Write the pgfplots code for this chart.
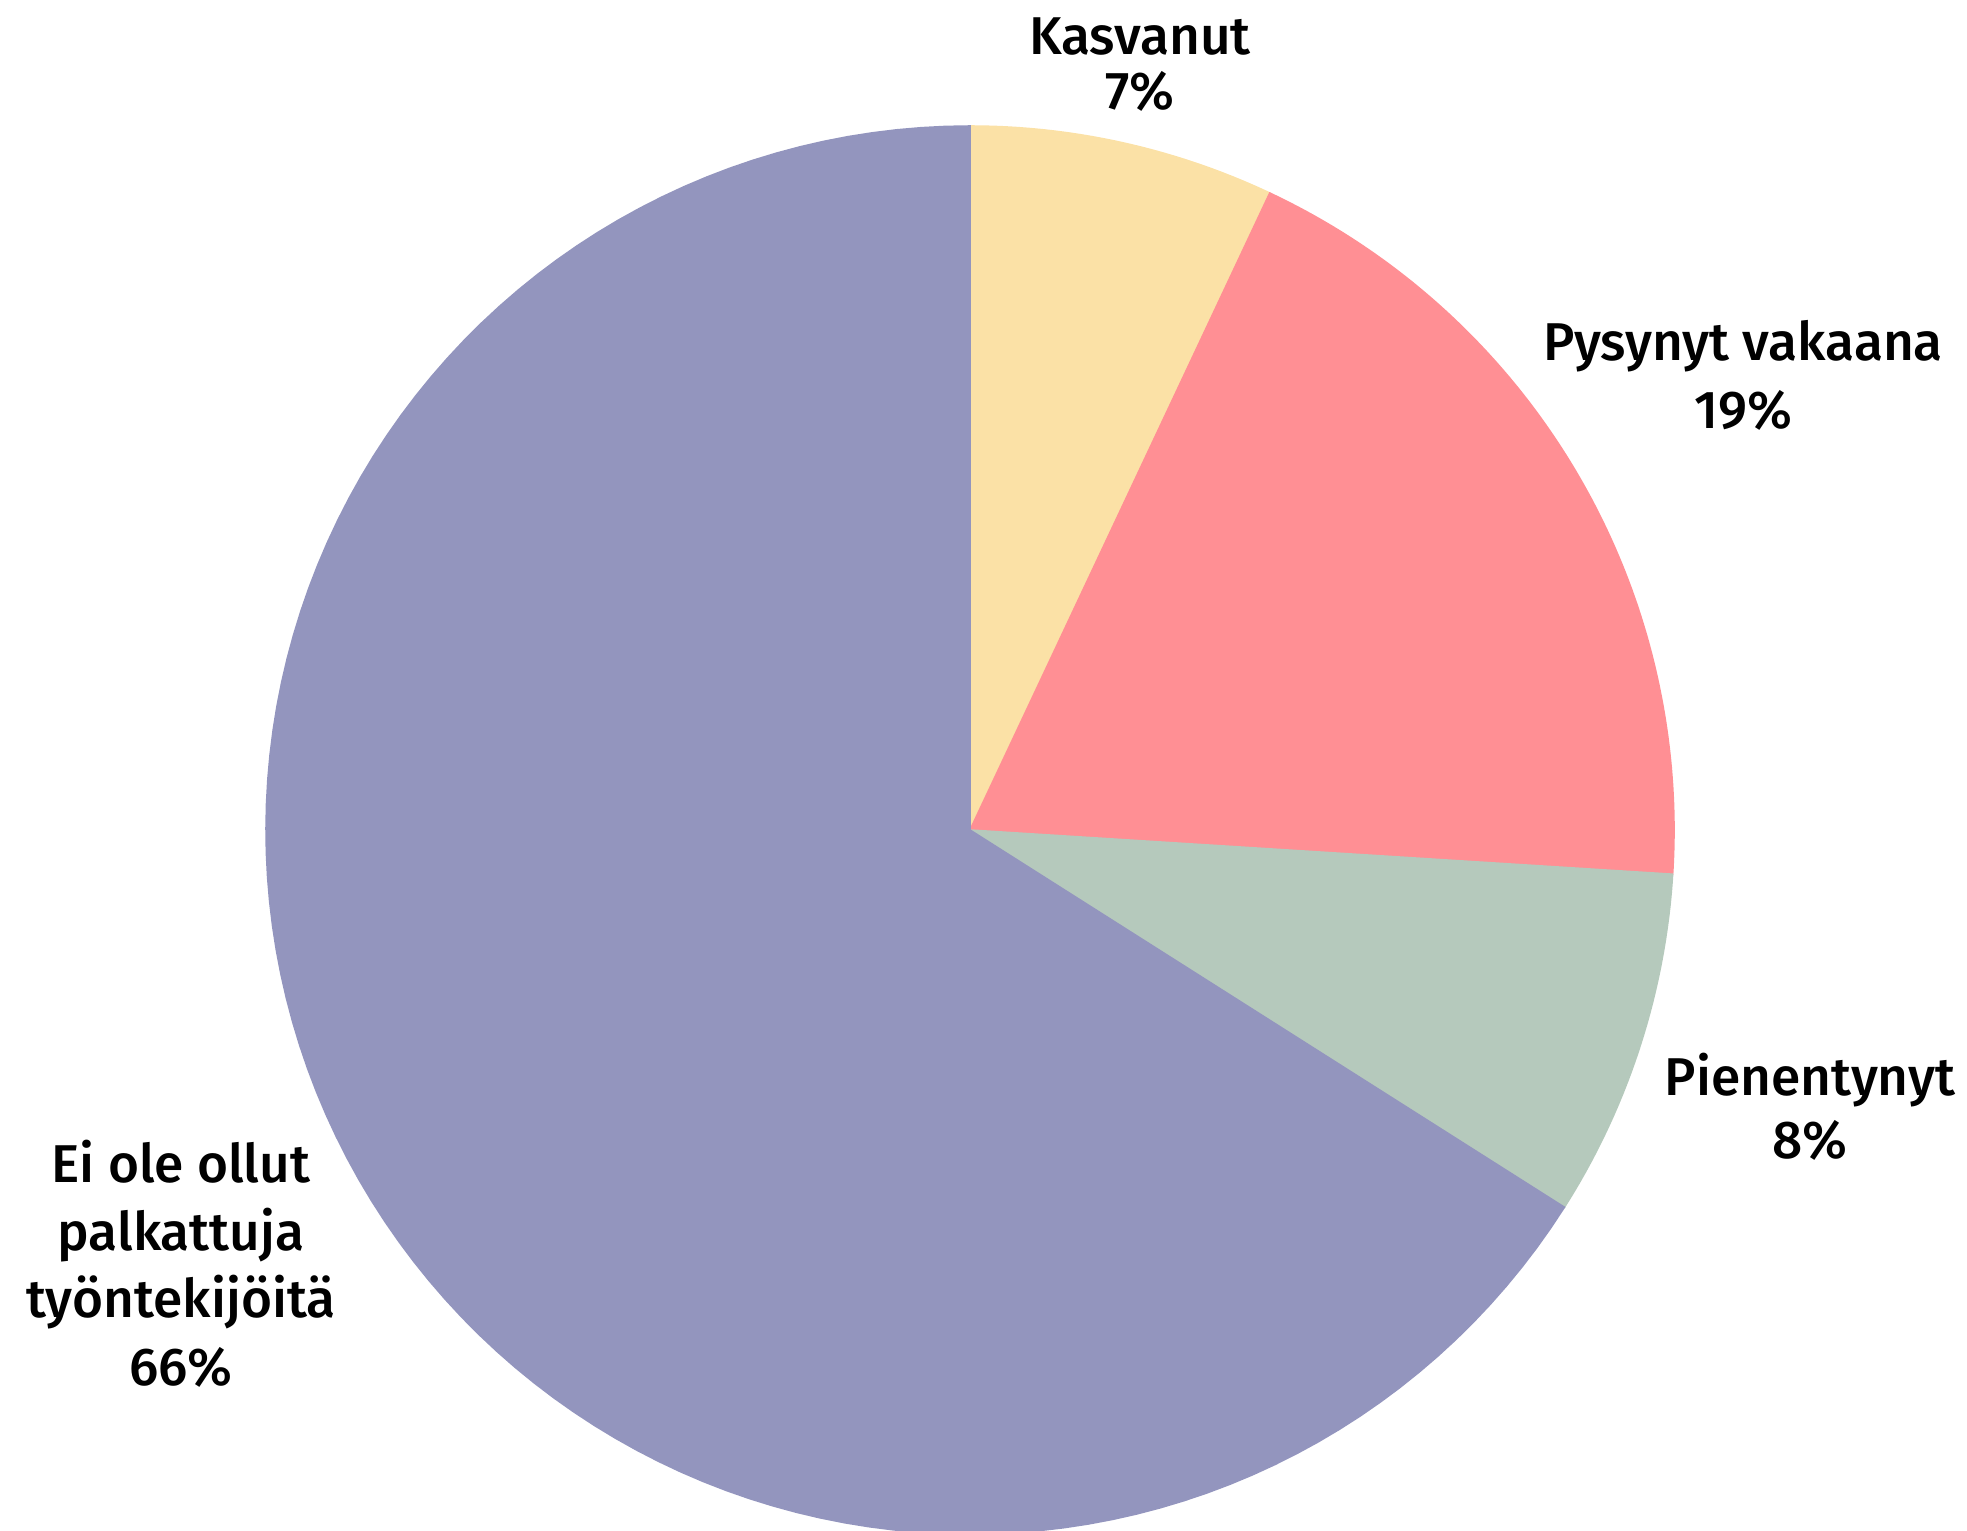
\documentclass[border=0pt]{standalone}
\usepackage{pgfplots}
\pgfplotsset{compat=1.18}
\usepackage{fontspec}
\setmainfont{Fira Sans}[UprightFont=* Medium, BoldFont=* SemiBold]
\definecolor{cKas}{HTML}{FBE1A6}
\definecolor{cPys}{HTML}{FF8F94}
\definecolor{cPie}{HTML}{B5C9BC}
\definecolor{cEi}{HTML}{9395BE}
% shares in percent: Kasvanut 7, Pysynyt vakaana 19, Pienentynyt 8, Ei ole ollut 66
\newcommand\slice[3]{%
  \addplot[fill=#3, draw=#3, line width=0.4pt, domain={90-3.6*#1}:{90-3.6*#2}, samples=120]
    ({970+704*cos(x)},{830-704*sin(x)}) -- (axis cs:970,830) -- cycle;}
\begin{document}
\begin{tikzpicture}
\begin{axis}[
  scale only axis, width=491.75pt, height=382.5pt,
  xmin=0, xmax=1967, ymin=0, ymax=1530, y dir=reverse,
  hide axis, clip=true,
]
\slice{0}{7}{cKas}
\slice{7}{26}{cPys}
\slice{26}{34}{cPie}
\slice{34}{100}{cEi}
\begin{scope}[every node/.style={anchor=base, font=\fontsize{13.3pt}{16pt}\selectfont, inner sep=0pt}]
\node at (axis cs:1140,55) {Kasvanut};
\node at (axis cs:1140,110) {7\%};
\node at (axis cs:1743,360) {Pysynyt vakaana};
\node at (axis cs:1743,428) {19\%};
\node at (axis cs:1810,1095) {Pienentynyt};
\node at (axis cs:1810,1158) {8\%};
\node at (axis cs:181,1182) {Ei ole ollut};
\node at (axis cs:181,1250) {palkattuja};
\node at (axis cs:181,1317) {työntekijöitä};
\node at (axis cs:181,1385) {66\%};
\end{scope}
\end{axis}
\pgfresetboundingbox
\path[use as bounding box] (current axis.south west) rectangle (current axis.north east);
\end{tikzpicture}
\end{document}
